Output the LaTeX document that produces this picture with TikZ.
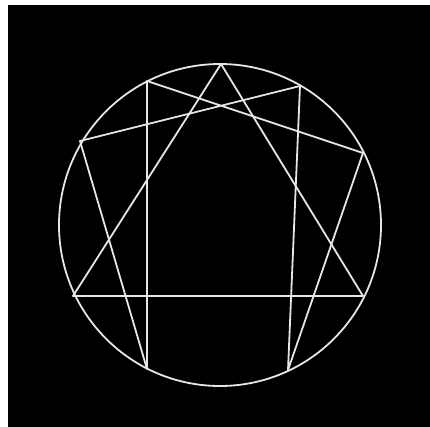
\documentclass[tikz,border=0pt]{standalone}
\usepackage{tikz}
\definecolor{bgdark}{HTML}{000000}
\definecolor{chalk}{HTML}{E6E6E6}

\begin{document}
\begin{tikzpicture}[x=1pt,y=-1pt,
  figline/.style={draw=chalk,line width=1.8pt,line join=round,line cap=round}]
\useasboundingbox (0,0) rectangle (430,427);
\fill[white] (0,0) rectangle (430,427);
\fill[bgdark] (8,5) rectangle (430,427);
% points of the figure, clockwise from the top
\coordinate (ctr) at (220,225);
\coordinate (p9) at (221,64);
\coordinate (p1) at (300,86);
\coordinate (p2) at (363,153);
\coordinate (p3) at (363,296);
\coordinate (p4) at (288,370);
\coordinate (p5) at (147,369);
\coordinate (p6) at (73,296);
\coordinate (p7) at (80,141);
\coordinate (p8) at (147,81);
\draw[figline] (ctr) circle (161pt);
% triangle
\draw[figline] (p9) -- (p3) -- (p6) -- cycle;
% hexad
\draw[figline] (p1) -- (p4) -- (p2) -- (p8) -- (p5) -- (p7) -- cycle;
\end{tikzpicture}
\end{document}
